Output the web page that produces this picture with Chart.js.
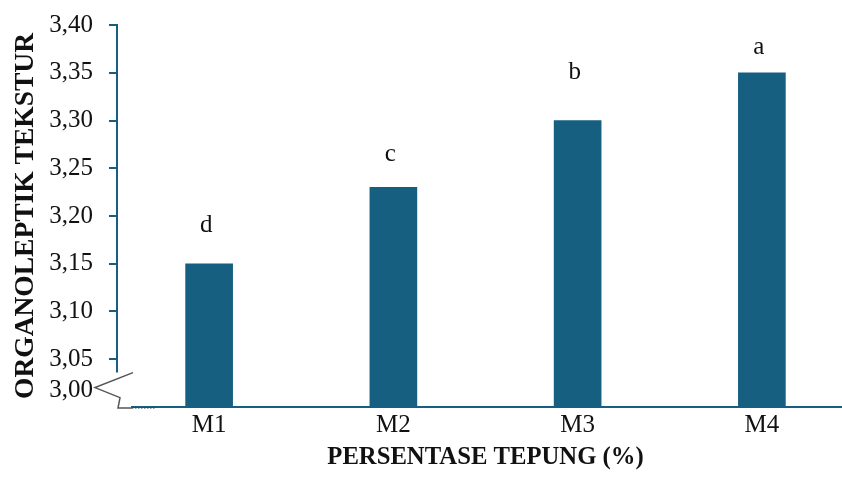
<!DOCTYPE html>
<html>
<head>
<meta charset="utf-8">
<script src="https://cdn.jsdelivr.net/npm/chart.js@4"></script>
<style>
  html, body { margin: 0; padding: 0; background: #fff; overflow: hidden; }
  #wrap { width: 854px; height: 477px; position: relative; }
</style>
</head>
<body>
<div id="wrap"><canvas id="teksturChart"></canvas></div>
<script>
// Data for the chart
const categories = ['M1', 'M2', 'M3', 'M4'];
const teksturValues = [3.15, 3.23, 3.30, 3.35];
const notasi = ['d', 'c', 'b', 'a'];
const notasiLevel = [3.19, 3.264, 3.35, 3.377]; // where each letter sits (y value)
const yTicks = [3.00, 3.05, 3.10, 3.15, 3.20, 3.25, 3.30, 3.35, 3.40];

const barColor = '#165f80';
const serif = "'Liberation Serif', 'Times New Roman', serif";

// letters above the bars + the axis break at the bottom of y
const extras = {
  id: 'extras',
  afterDraw(chart) {
    const ctx = chart.ctx;
    const x = chart.scales.x, y = chart.scales.y;
    const left = chart.chartArea.left, right = chart.chartArea.right;
    const base = y.getPixelForValue(3.0);
    ctx.save();

    // letters
    ctx.fillStyle = '#111';
    ctx.font = '25px ' + serif;
    ctx.textAlign = 'center';
    ctx.textBaseline = 'middle';
    notasi.forEach((t, i) => {
      ctx.fillText(t, x.getPixelForValue(i) - 3, y.getPixelForValue(notasiLevel[i]));
    });

    // y axis line down to the break
    const breakTop = y.getPixelForValue(3.036);
    ctx.strokeStyle = barColor;
    ctx.lineWidth = 2;
    ctx.beginPath();
    ctx.moveTo(left, y.getPixelForValue(3.40) - 1);
    ctx.lineTo(left, breakTop);
    ctx.stroke();

    // x axis line
    ctx.beginPath();
    ctx.moveTo(left + 14, base);
    ctx.lineTo(right, base);
    ctx.stroke();

    // break zigzag
    ctx.strokeStyle = '#555';
    ctx.lineWidth = 1.5;
    ctx.beginPath();
    ctx.moveTo(left + 16, breakTop);
    ctx.lineTo(left - 22, breakTop + 15);
    ctx.lineTo(left + 3, breakTop + 25);
    ctx.lineTo(left + 1, base + 1);
    ctx.lineTo(left + 15, base + 1);
    ctx.stroke();

    ctx.strokeStyle = '#333';
    ctx.setLineDash([1.5, 1.5]);
    ctx.lineWidth = 1.2;
    ctx.beginPath();
    ctx.moveTo(left + 15, base + 1);
    ctx.lineTo(left + 38, base + 1);
    ctx.stroke();
    ctx.setLineDash([]);

    // the 3,00 label sits higher, next to the break
    ctx.fillStyle = '#111';
    ctx.font = '25px ' + serif;
    ctx.textAlign = 'right';
    ctx.textBaseline = 'middle';
    ctx.fillText('3,00', left - 24, base - 17);
    ctx.restore();
  }
};

new Chart(document.getElementById('teksturChart').getContext('2d'), {
  type: 'bar',
  data: {
    labels: categories,
    datasets: [{
      data: teksturValues,
      backgroundColor: barColor,
      borderWidth: 0,
      barThickness: 47
    }]
  },
  options: {
    responsive: true,
    maintainAspectRatio: false,
    animation: false,
    layout: { padding: { top: 25, left: 0, right: 0, bottom: 0 } },
    plugins: {
      legend: { display: false },
      tooltip: { enabled: false }
    },
    scales: {
      x: {
        grid: { display: false, drawTicks: false },
        border: { display: false },
        ticks: {
          color: '#111',
          padding: 3,
          font: { family: serif, size: 25 }
        },
        title: {
          display: true,
          text: 'PERSENTASE TEPUNG (%)',
          color: '#111',
          font: { family: serif, size: 24.7, weight: 'bold' },
          padding: { top: 0, bottom: 5 }
        },
        afterFit(scale) { scale.height = 70; }
      },
      y: {
        min: 3.0,
        max: 3.4,
        afterBuildTicks(scale) {
          scale.ticks = yTicks.map(v => ({ value: v }));
        },
        grid: {
          drawOnChartArea: false,
          drawTicks: true,
          tickLength: 8,
          lineWidth: 2,
          color: ctx => (ctx.tick && ctx.tick.value === 3.0) ? 'rgba(0,0,0,0)' : barColor
        },
        border: { display: false },
        ticks: {
          color: '#111',
          padding: 16,
          font: { family: serif, size: 25 },
          callback: v => v === 3.0 ? '' : v.toFixed(2).replace('.', ',')
        },
        title: {
          display: true,
          text: 'ORGANOLEPTIK TEKSTUR',
          color: '#111',
          font: { family: serif, size: 27.5, weight: 'bold' },
          padding: { top: 9, bottom: 0 }
        },
        afterFit(scale) {
          scale.width = 117;
          scale.paddingTop = 0;
          scale.paddingBottom = 0;
        }
      }
    }
  },
  plugins: [extras]
});
</script>
</body>
</html>
